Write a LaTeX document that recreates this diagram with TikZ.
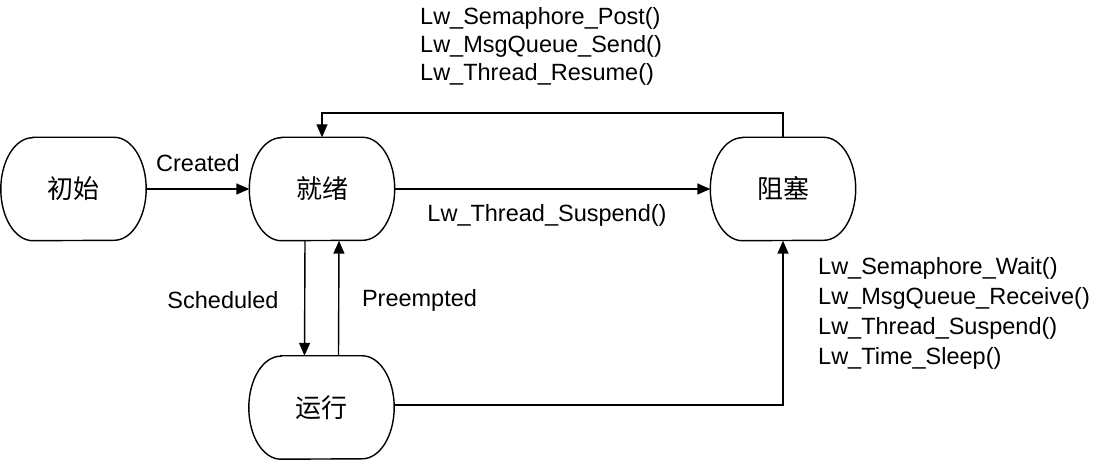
\documentclass[tikz,border=0pt]{standalone}
\usepackage{fontspec}
\setmainfont{Liberation Sans}
\newfontfamily\cjk{Noto Sans CJK SC}
\usetikzlibrary{arrows.meta,calc}
\begin{document}
\begin{tikzpicture}[x=1pt,y=1pt,
  state/.style={minimum width=145pt,minimum height=103pt,inner sep=0pt,font=\cjk\fontsize{26}{30}\selectfont},
  conn/.style={line width=1.4pt,-{Triangle[length=13pt,width=11pt]}},
  lbl/.style={font=\fontsize{23.5}{28}\selectfont,inner sep=0pt},
  outline/.style={line width=1.4pt}]
\useasboundingbox (0,0) rectangle (1114,460);
\node[state] (init) at (73.5,271) {初始};
\node[state] (ready) at (322,271) {就绪};
\node[state] (block) at (783,271) {阻塞};
\node[state] (run) at (321.5,52.5) {运行};
\foreach \n in {init,ready,block,run}{
  \draw[outline] ($(\n.north west)+(32,0)$) -- ($(\n.north east)+(-32,0)$)
     arc[start angle=90,end angle=-90,x radius=32,y radius=51.5]
     -- ($(\n.south west)+(32,0)$)
     arc[start angle=270,end angle=90,x radius=32,y radius=51.5] -- cycle;
}
\coordinate (top) at (0,347);
\draw[conn] (init.east) -- (ready.west);
\draw[conn] (ready.east) -- (block.west);
\draw[conn] (block.north) -- (block.north |- top) -- (ready.north |- top) -- (ready.north);
\draw[conn] ([xshift=-17pt]ready.south) -- ([xshift=-17pt]run.north);
\draw[conn] ([xshift=17pt]run.north) -- ([xshift=17pt]ready.south);
\draw[conn] ([yshift=2.5pt]run.east) -| (block.south);
\node[lbl] (created) at (198,297) {Created};
\node[lbl] (susp) at (547,245) {Lw\_Thread\_Suspend()};
\node[lbl,anchor=west,align=left] (wake) at (420,414) {Lw\_Semaphore\_Post()\\Lw\_MsgQueue\_Send()\\Lw\_Thread\_Resume()};
\node[lbl] (sched) at (223,160) {Scheduled};
\node[lbl] (pre) at (419.5,160) {Preempted};
\node[lbl,anchor=west,align=left,font=\fontsize{23.5}{30}\selectfont] (wait) at (818,147) {Lw\_Semaphore\_Wait()\\Lw\_MsgQueue\_Receive()\\Lw\_Thread\_Suspend()\\Lw\_Time\_Sleep()};
\end{tikzpicture}
\end{document}
